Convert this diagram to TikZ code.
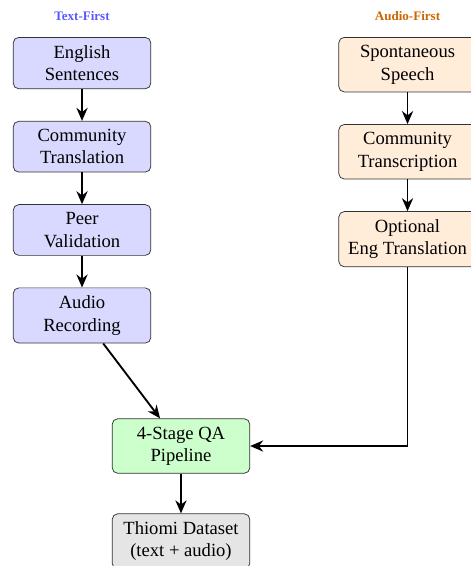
\documentclass[tikz,border=0pt]{standalone}
\usepackage{fontspec}
\setmainfont{Liberation Serif}
\usetikzlibrary{arrows.meta}
\usetikzlibrary{positioning}

\begin{document}
\begin{tikzpicture}[auto, node distance=0.6cm]
\tikzstyle{textbox} = [rectangle, draw=black!80, fill=blue!15, rounded corners=3pt,
minimum width=2.6cm, align=center, inner sep=4.3pt]
\tikzstyle{audiobox} = [textbox, fill=orange!15]
\tikzstyle{qabox} = [textbox, fill=green!20]
\tikzstyle{databox} = [textbox, fill=gray!20]
\tikzstyle{header} = [font=\scriptsize\bfseries]
\tikzstyle{flow} = [draw, line width=1pt, -{Stealth[length=7pt,width=6pt]}]
\useasboundingbox (0,0) rectangle (253.2pt,-304.3pt);
% text-first column
\node [textbox, anchor=north] (eng) at (44.1pt,-19.9pt) {English\\Sentences};
\node [textbox, below=of eng] (transl) {Community\\Translation};
\node [textbox, below=of transl] (peer) {Peer\\Validation};
\node [textbox, below=of peer] (rec) {Audio\\Recording};
\node [header, text=blue!65, above=5.5pt of eng] (textfirst) {Text-First};
% audio-first column
\node [audiobox, anchor=north] (spont) at (219.1pt,-19.9pt) {Spontaneous\\Speech};
\node [audiobox, below=of spont] (transcr) {Community\\Transcription};
\node [audiobox, below=of transcr] (opteng) {Optional\\Eng Translation};
\node [header, text=orange!80!black, above=5.5pt of spont] (audiofirst) {Audio-First};
% merge
\node [qabox] (qa) at (97.3pt,-239.8pt) {4-Stage QA\\Pipeline};
\node [databox, below=0.75cm of qa] (dataset) {Thiomi Dataset\\(text + audio)};
%\tikzstyle{every path}=[flow]
\draw [flow] (eng) -- (transl);
\draw [flow] (transl) -- (peer);
\draw [flow] (peer) -- (rec);
\draw [flow] (spont) -- (transcr);
\draw [flow] (transcr) -- (opteng);
\draw [flow] (rec) -- (qa);
\draw [flow] (opteng) |- (qa);
\draw [flow] (qa) -- (dataset);
\end{tikzpicture}
\end{document}
